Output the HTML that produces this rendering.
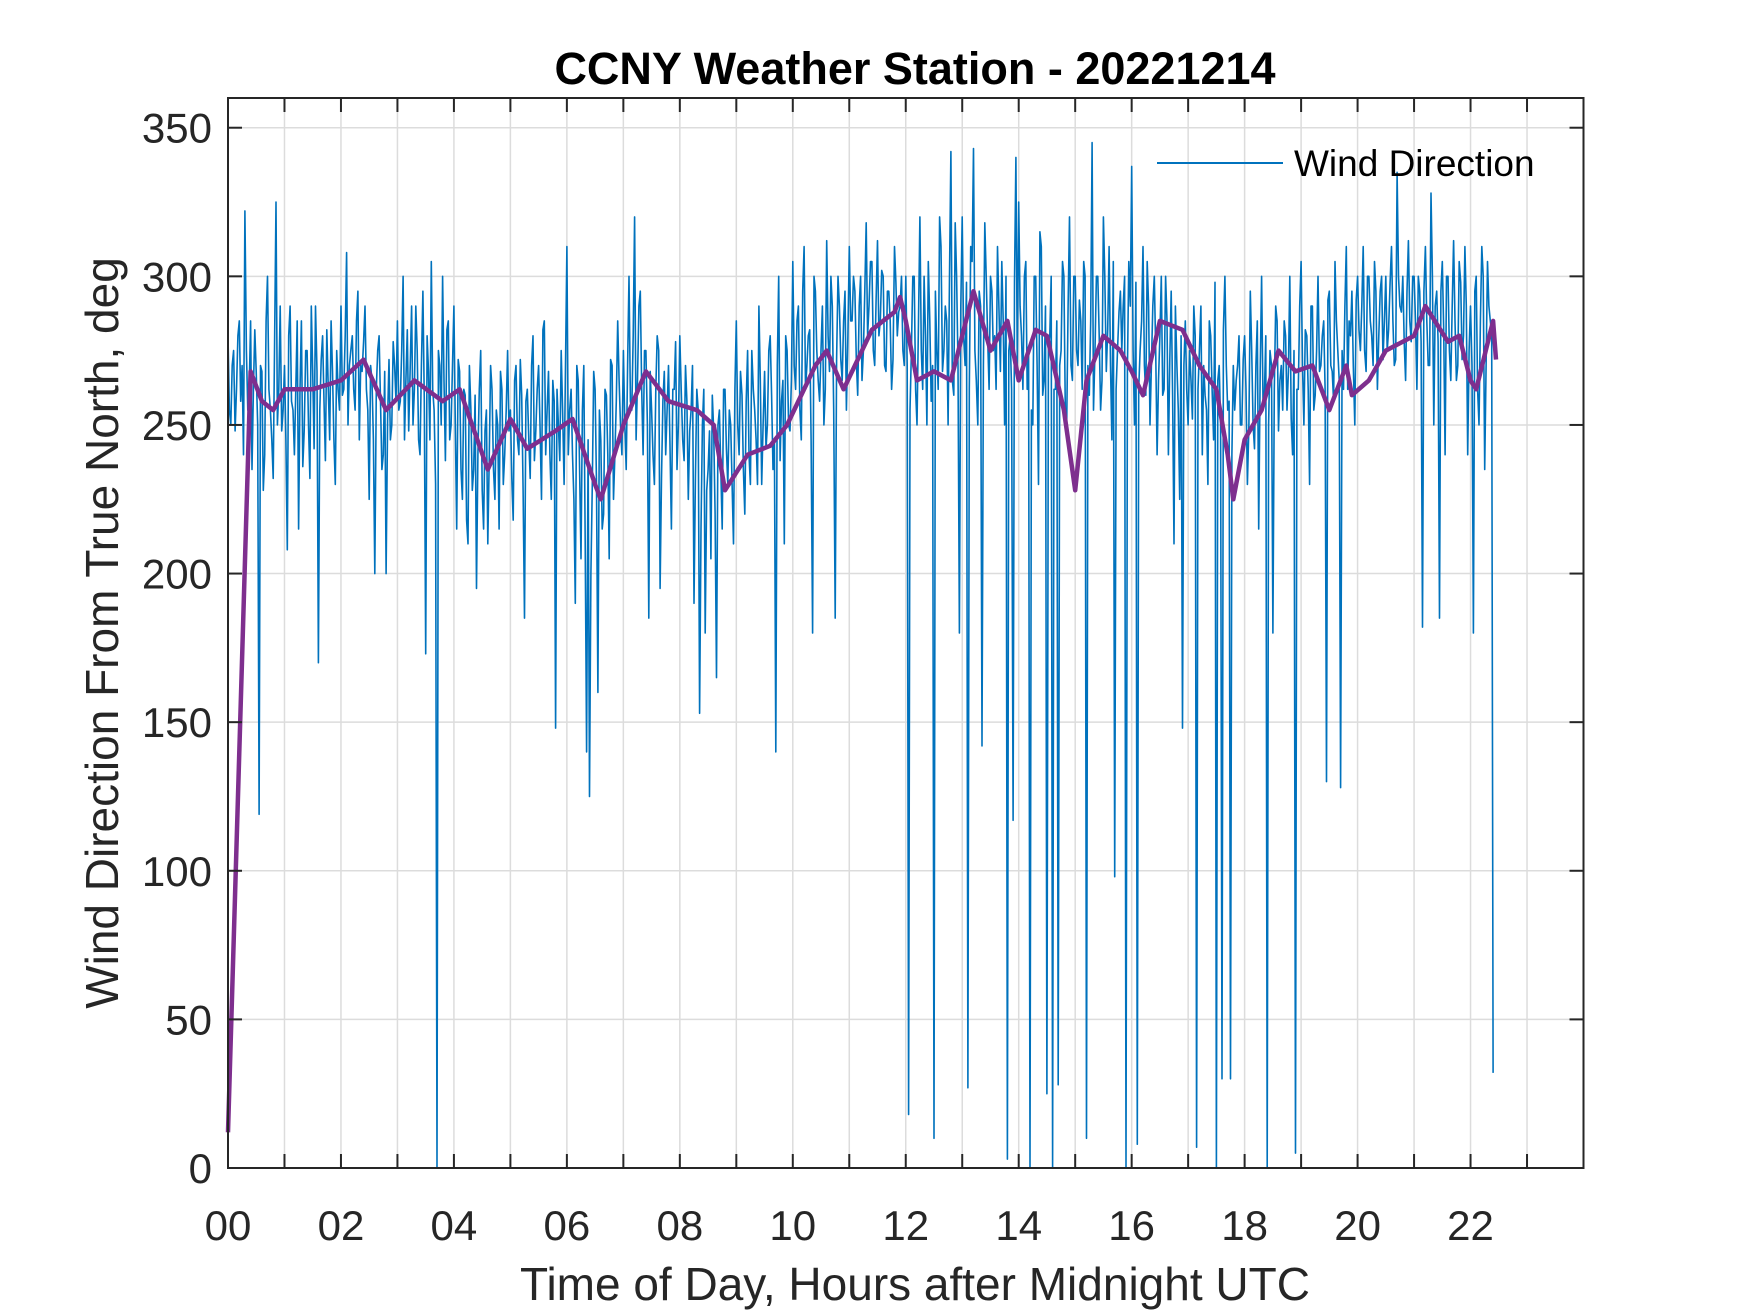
<!DOCTYPE html>
<html><head><meta charset="utf-8">
<style>
html,body{margin:0;padding:0;background:#fff;}
svg{display:block;}
text{font-family:"Liberation Sans",Arial,sans-serif;}
</style></head>
<body>
<svg id="chart" width="1750" height="1313" viewBox="0 0 1750 1313" xmlns="http://www.w3.org/2000/svg">
<rect x="0" y="0" width="1750" height="1313" fill="#fff"/>
<g id="grid"></g>
<g id="plot"></g>
<g id="axes"></g>
<text x="915" y="84" text-anchor="middle" font-size="45" font-weight="bold" fill="#000">CCNY Weather Station - 20221214</text>
<text x="915" y="1300" text-anchor="middle" font-size="46" fill="#262626">Time of Day, Hours after Midnight UTC</text>
<text transform="translate(118,633) rotate(-90)" text-anchor="middle" font-size="46" fill="#262626">Wind Direction From True North, deg</text>
<g>
<line x1="1157" y1="163" x2="1283" y2="163" stroke="#0072BD" stroke-width="2"/>
<text x="1294" y="176" font-size="37" fill="#000">Wind Direction</text>
</g>
</svg>
<script>
const xTickValues=[0,2,4,6,8,10,12,14,16,18,20,22];
const xTickLabels=["00","02","04","06","08","10","12","14","16","18","20","22"];
const yTickValues=[0,50,100,150,200,250,300,350];
const yTickLabels=["0","50","100","150","200","250","300","350"];
const windStepHours=0.05;
const windDirection=[
280,250,275,262,285,270,322,255,285,262,268,119,268,240,300,255,232,325,262,248,
270,208,290,255,262,215,285,248,275,232,268,290,170,272,258,282,245,268,230,262,
290,262,308,270,280,255,295,270,278,262,225,265,200,275,258,240,200,272,250,270,
285,258,300,265,248,290,262,275,240,295,173,268,305,255,0,270,300,238,285,250,
290,215,268,225,260,210,255,235,195,262,228,248,210,270,235,255,215,262,240,275,
255,218,270,240,260,185,262,232,280,248,270,225,285,255,240,265,148,250,275,230,
310,255,240,190,265,205,270,140,125,230,262,160,245,220,260,205,270,240,285,250,
275,235,300,255,320,265,295,240,275,185,255,230,280,195,258,240,270,215,262,235,
280,245,270,225,255,190,262,153,250,180,235,205,248,165,255,215,262,230,250,210,
285,240,260,220,275,230,262,245,290,230,268,250,280,235,140,300,258,210,275,248,
305,262,290,245,310,270,282,180,295,265,275,250,312,268,290,185,300,272,285,255,
310,285,295,260,300,275,318,290,305,270,312,285,300,268,295,262,310,280,290,275,
300,18,275,300,250,320,262,280,305,258,10,275,320,268,290,250,342,260,300,180,
320,270,27,310,343,265,295,142,318,280,300,275,262,290,305,250,3,280,117,340,
325,280,300,262,0,250,300,230,310,265,25,280,0,262,28,275,300,250,320,265,
300,270,285,305,10,260,345,275,300,255,320,268,310,245,98,275,295,290,0,305,
337,250,8,275,310,260,290,270,300,240,280,260,300,240,295,210,270,225,148,285,
250,265,290,7,275,240,260,230,280,245,0,270,30,300,255,30,270,265,280,250,
280,230,295,250,270,215,300,260,0,275,180,290,248,270,285,255,300,240,5,262,
305,250,280,230,290,260,300,270,285,130,295,268,305,275,128,262,310,285,295,250,
300,275,310,268,300,280,305,262,295,272,300,282,310,270,335,290,300,265,312,278,
300,262,295,182,310,270,328,250,295,185,305,240,300,265,312,265,305,272,310,240,
290,180,300,250,310,235,305,285,32
];
const windDirectionMid=[
255,270,248,280,258,240,275,262,235,282,250,270,228,285,262,245,278,250,290,255,
245,280,258,240,285,262,236,275,250,290,242,268,255,280,238,262,285,245,275,255,
260,280,250,275,262,285,245,268,290,255,270,245,262,280,235,268,252,245,278,258,
255,275,245,282,268,250,290,245,270,258,280,245,262,230,275,250,265,282,245,270,
250,272,235,262,218,270,228,260,240,275,215,255,238,262,225,250,268,230,255,248,
232,265,245,272,228,258,245,270,238,262,250,282,240,268,225,258,262,238,255,270,
240,262,225,270,235,255,210,245,200,268,230,255,215,262,240,272,225,258,265,240,
250,270,258,280,245,290,262,275,250,268,240,262,275,232,268,255,245,262,278,250,
262,238,258,248,270,232,255,215,262,228,248,260,220,250,235,262,242,255,230,262,
250,268,235,258,240,275,255,230,265,250,242,275,260,245,270,238,265,280,250,265,
270,285,255,295,262,280,245,300,275,258,290,262,280,300,255,272,290,265,295,280,
285,300,272,290,265,295,280,305,275,292,280,302,270,295,285,272,298,288,300,270,
270,255,300,262,285,275,300,250,285,270,295,262,310,275,285,300,265,318,270,290,
280,298,262,305,275,250,290,270,300,262,295,280,310,268,285,300,275,262,298,270,
290,262,305,275,255,300,270,315,260,290,275,300,262,285,270,305,255,290,270,300,
275,292,262,300,270,285,255,300,280,265,300,282,270,305,262,288,275,300,268,290,
275,298,262,285,270,305,250,290,275,265,300,262,285,272,260,290,255,280,270,262,
275,252,280,262,290,270,255,285,262,298,265,250,282,270,258,240,255,270,250,272,
262,250,275,242,285,268,258,280,250,270,262,285,265,255,280,268,252,275,262,290,
270,282,262,290,255,275,268,280,262,292,270,258,285,265,275,290,262,280,270,292,
282,290,275,300,285,270,295,280,300,285,275,298,285,272,300,288,278,295,285,300,
285,300,278,295,285,270,300,290,278,295,282,300,275,290,285,270,298,280,290,275,
270,295,262,285,300,270,290,280
];
const avgHours=[0,0.4,0.6,0.8,1.0,1.5,2.0,2.4,2.8,3.3,3.8,4.1,4.6,5.0,5.3,5.8,6.1,6.5,6.6,7.0,7.4,7.8,8.3,8.6,8.8,9.2,9.6,9.9,10.4,10.6,10.9,11.4,11.8,11.9,12.0,12.2,12.5,12.8,13.0,13.2,13.5,13.8,14.0,14.3,14.5,14.8,15.0,15.2,15.5,15.8,16.0,16.2,16.5,16.9,17.2,17.5,17.7,17.8,18.0,18.3,18.6,18.9,19.2,19.5,19.8,19.9,20.2,20.5,21.0,21.2,21.6,21.8,22.0,22.1,22.4,22.45];
const avgDirection=[12,268,258,255,262,262,265,272,255,265,258,262,235,252,242,248,252,230,225,250,268,258,255,250,228,240,243,250,270,275,262,282,288,293,285,265,268,265,280,295,275,285,265,282,280,255,228,265,280,275,268,260,285,282,270,262,240,225,245,255,275,268,270,255,270,260,265,275,280,290,278,280,265,262,285,272];

const X0=228,X1=1583.5,Y0=1168,Y1=98;
const xMin=0,xMax=24,yMin=0,yMax=360;
function xs(v){return X0+(v-xMin)/(xMax-xMin)*(X1-X0);}
function ys(v){return Y0-(v-yMin)/(yMax-yMin)*(Y0-Y1);}
const NS="http://www.w3.org/2000/svg";
function mk(tag,attrs,parent){const e=document.createElementNS(NS,tag);for(const k in attrs)e.setAttribute(k,attrs[k]);parent.appendChild(e);return e;}
const grid=document.getElementById('grid'),plot=document.getElementById('plot'),axes=document.getElementById('axes');

for(let h=0;h<=23;h++){
  const x=xs(h);
  const g=mk('line',{x1:x,y1:Y0,x2:x,y2:Y1,stroke:'#dcdcdc','stroke-width':1.5},grid);
  
  
  const t1=mk('line',{x1:x,y1:Y0,x2:x,y2:Y0-14,stroke:'#262626','stroke-width':2},axes);
  
  
  const t2=mk('line',{x1:x,y1:Y1,x2:x,y2:Y1+14,stroke:'#262626','stroke-width':2},axes);
  
  
}
yTickValues.forEach((v,i)=>{
  const y=ys(v);
  const g=mk('line',{x1:X0,y1:y,x2:X1,y2:y,stroke:'#dcdcdc','stroke-width':1.5},grid);
  
  
  const t1=mk('line',{x1:X0,y1:y,x2:X0+14,y2:y,stroke:'#262626','stroke-width':2},axes);
  
  
  const t2=mk('line',{x1:X1,y1:y,x2:X1-14,y2:y,stroke:'#262626','stroke-width':2},axes);
  
  
  const lb=mk('text',{x:212,y:y+15,'text-anchor':'end','font-size':42,fill:'#262626'},axes);
  lb.textContent=yTickLabels[i];
  
  
});
xTickValues.forEach((v,i)=>{
  const lb=mk('text',{x:xs(v),y:1240,'text-anchor':'middle','font-size':42,fill:'#262626'},axes);
  lb.textContent=xTickLabels[i];
  
  
});
const box=mk('rect',{x:X0,y:Y1,width:X1-X0,height:Y0-Y1,fill:'none',stroke:'#262626','stroke-width':2},axes);



// merge main samples with mid-step samples in time order
const pts=[];
windDirection.forEach((v,i)=>{
  pts.push([i*windStepHours,v]);
  if(i<windDirectionMid.length && i<windDirection.length-1) pts.push([(i+0.5)*windStepHours,windDirectionMid[i]]);
});
const wp=pts.map(p=>xs(p[0]).toFixed(1)+','+ys(p[1]).toFixed(1)).join(' ');
const wl=mk('polyline',{points:wp,fill:'none',stroke:'#0072BD','stroke-width':1.6,'stroke-linejoin':'round'},plot);


const ap=avgDirection.map((v,i)=>xs(avgHours[i]).toFixed(1)+','+ys(v).toFixed(1)).join(' ');
const al=mk('polyline',{points:ap,fill:'none',stroke:'#7E2F8E','stroke-width':4.5,'stroke-linejoin':'round'},plot);


</script>
</body></html>
